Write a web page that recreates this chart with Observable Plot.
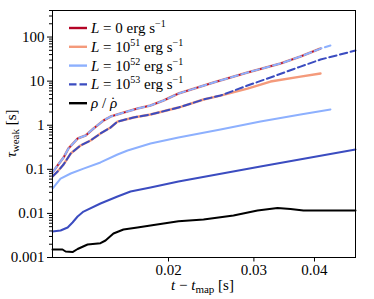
<!DOCTYPE html>
<html><head><meta charset="utf-8">
<script src="https://cdn.jsdelivr.net/npm/d3@7"></script>
<script src="https://cdn.jsdelivr.net/npm/@observablehq/plot@0.6"></script>
<style>
body{margin:0;background:#fff;}
#wrap{width:374px;height:299px;}
svg text, svg tspan{font-family:"Liberation Serif","DejaVu Serif",serif !important;}
</style></head><body><div id="wrap"></div>
<script>
// ---- data ----
const topT   = [0.01153,0.01181,0.01215,0.01244,0.01299,0.01349,0.01401,0.01469,0.01519,0.01592,0.01726,0.01836,0.01953,0.02097,0.02476,0.0291,0.03404,0.03743,0.04116];
const topTau = [0.0845,0.122,0.185,0.297,0.499,0.583,0.841,1.28,1.57,1.84,2.39,2.80,3.63,5.23,9.29,15.7,25.1,36.1,54.8];
const topExtT = [0.04315];
const topExtTau = [64.2];

const midT   = [0.01153,0.01181,0.01215,0.01257,0.01317,0.01381,0.01448,0.01519,0.01570,0.01694,0.01836,0.02097,0.02362,0.02560];
const midTau = [0.0687,0.0891,0.1285,0.228,0.347,0.450,0.649,0.887,1.21,1.50,1.75,2.52,3.83,4.71];
const l51T   = [0.0291,0.03246,0.03743,0.04116];
const l51Tau = [6.79,9.79,12.7,14.9];
const l53dT  = [0.0291,0.03246,0.03743,0.04116,0.0486];
const l53dTau= [7.94,12.1,21.4,30.9,49.4];

const l52T   = [0.01153,0.01198,0.01257,0.01336,0.01448,0.0157,0.01647,0.01836,0.02097,0.0256,0.03095,0.03743,0.04315];
const l52Tau = [0.0367,0.0618,0.0804,0.104,0.143,0.217,0.267,0.385,0.526,0.798,1.21,1.75,2.27];

const l53T   = [0.01153,0.01198,0.01239,0.01268,0.01299,0.01336,0.01448,0.0157,0.0167,0.01836,0.02097,0.03095,0.0486];
const l53Tau = [0.00389,0.00409,0.00479,0.00622,0.00851,0.0110,0.0168,0.0242,0.0314,0.0386,0.0528,0.1155,0.281];

const rhoT   = [0.01153,0.01209,0.01227,0.01268,0.01299,0.01362,0.01448,0.01483,0.0154,0.01615,0.01726,0.01836,0.02097,0.02362,0.02723,0.03052,0.03356,0.0357,0.03796,0.0486];
const rhoTau = [0.00152,0.00152,0.00137,0.00133,0.00156,0.00197,0.00211,0.00243,0.0035,0.00431,0.00479,0.00532,0.00666,0.00727,0.00896,0.01164,0.01325,0.01259,0.01164,0.01164];

const yTicks = [0.001,0.01,0.1,1,10,100];
const yTickLabels = ["0.001","0.01","0.1","1","10","100"];
const xTicks = [0.02,0.03,0.04];
const xTickLabels = ["0.02","0.03","0.04"];
const xDomain = [0.01153,0.0486];
const yDomain = [0.001,400];

const legendNames = ["L0","L51","L52","L53","rho"];
const legendExp = ["", "51", "52", "53", ""];
const colors = {L0:"#b40426", L51:"#f49a7b", L52:"#8db0fe", L53:"#3b4cc0", rho:"#000000"};

// ---- helpers ----
const zip = (xs, ys) => xs.map((x,i)=>({x, y: ys[i]}));
const yMinor = [];
for (let k=-3;k<=2;k++) for (let m=2;m<=9;m++){ const v=m*Math.pow(10,k); if (v<=yDomain[1]) yMinor.push(v); }

const FONT = '"Liberation Serif", "DejaVu Serif", serif';
const W=374,H=299, mL=52, mR=19, mT=10, mB=42;

const topSeries = zip(topT, topTau);
const topDashed = zip(topT.concat(topExtT), topTau.concat(topExtTau));
const mid51 = zip(midT.concat(l51T), midTau.concat(l51Tau));
const mid53 = zip(midT.concat(l53dT), midTau.concat(l53dTau));

const plot = Plot.plot({
  width: W, height: H,
  marginLeft: mL, marginRight: mR, marginTop: mT, marginBottom: mB,
  style: {fontFamily: FONT, fontSize: "15px", background: "white", color: "black", overflow: "visible"},
  x: {type: "log", domain: xDomain},
  y: {type: "log", domain: yDomain},
  marks: [
    Plot.axisY(yMinor, {tickSize: 3, tickFormat: () => "", label: null, stroke: "black"}),
    Plot.axisY(yTicks, {tickSize: 5, tickPadding: 3, tickFormat: d => yTickLabels[yTicks.indexOf(d)], label: null, stroke: "black", fontSize: 15}),
    Plot.axisX(xTicks, {tickSize: 4.5, tickPadding: 2, tickFormat: d => xTickLabels[xTicks.indexOf(d)], label: null, stroke: "black", fontSize: 15}),
    Plot.line(zip(rhoT, rhoTau), {x:"x", y:"y", stroke: colors.rho, strokeWidth: 2}),
    Plot.line(zip(l53T, l53Tau), {x:"x", y:"y", stroke: colors.L53, strokeWidth: 2}),
    Plot.line(zip(l52T, l52Tau), {x:"x", y:"y", stroke: colors.L52, strokeWidth: 2}),
    Plot.line(mid51, {x:"x", y:"y", stroke: colors.L51, strokeWidth: 2.4}),
    Plot.line(mid53, {x:"x", y:"y", stroke: colors.L53, strokeWidth: 2, strokeDasharray: "7.5,3.5"}),
    Plot.line(topSeries, {x:"x", y:"y", stroke: colors.L51, strokeWidth: 2.6}),
    Plot.line(topSeries, {x:"x", y:"y", stroke: colors.L0, strokeWidth: 1.6}),
    Plot.line(topDashed, {x:"x", y:"y", stroke: colors.L52, strokeWidth: 2, strokeDasharray: "7.5,3.5"}),
    Plot.frame({stroke: "black", strokeWidth: 1})
  ]
});
document.getElementById("wrap").appendChild(plot);

// ---- axis titles & legend (text) ----
const svg = d3.select(plot);
const cy = (mT + (H - mB)) / 2, cx = (mL + (W - mR)) / 2;

const yl = svg.append("text").attr("transform", `translate(16,${cy}) rotate(-90)`)
  .attr("text-anchor","middle").attr("font-size", 15).attr("fill","black");
yl.append("tspan").attr("font-style","italic").text("τ");
yl.append("tspan").attr("font-size", 11).attr("dy", 3).text("weak");
yl.append("tspan").attr("dy", -3).text(" [s]");

const xl = svg.append("text").attr("x", cx - 1).attr("y", 290)
  .attr("text-anchor","middle").attr("font-size", 15).attr("fill","black");
xl.append("tspan").attr("font-style","italic").text("t");
xl.append("tspan").text(" − ");
xl.append("tspan").attr("font-style","italic").text("t");
xl.append("tspan").attr("font-size", 11).attr("dy", 3).text("map");
xl.append("tspan").attr("dy", -3).text(" [s]");

const lg = svg.append("g").attr("font-size", 15).attr("fill","black").attr("text-anchor","start");
legendNames.forEach((name, i) => {
  const y = 28 + i * 18.8;
  lg.append("line").attr("x1", 69).attr("x2", 87).attr("y1", y).attr("y2", y)
    .attr("stroke", colors[name]).attr("stroke-width", 2.4)
    .attr("stroke-dasharray", name === "L53" ? "7.5,3" : null);
  const t = lg.append("text").attr("x", 91).attr("y", y + 5).attr("text-anchor","start");
  if (name === "rho") {
    t.append("tspan").attr("font-style","italic").text("ρ");
    t.append("tspan").text(" / ");
    t.append("tspan").attr("font-style","italic").text("ρ");
    t.append("tspan").attr("dx", -6.5).attr("dy", -1).text("\u02D9");
  } else {
    t.append("tspan").attr("font-style","italic").text("L");
    t.append("tspan").text(name === "L0" ? " = 0 " : " = 10");
    if (legendExp[i]) { t.append("tspan").attr("font-size", 10).attr("dy", -6).text(legendExp[i]); t.append("tspan").attr("dy", 6).text(" "); }
    t.append("tspan").text("erg s");
    t.append("tspan").attr("font-size", 10).attr("dy", -6).text("−1");
  }
});
</script></body></html>
